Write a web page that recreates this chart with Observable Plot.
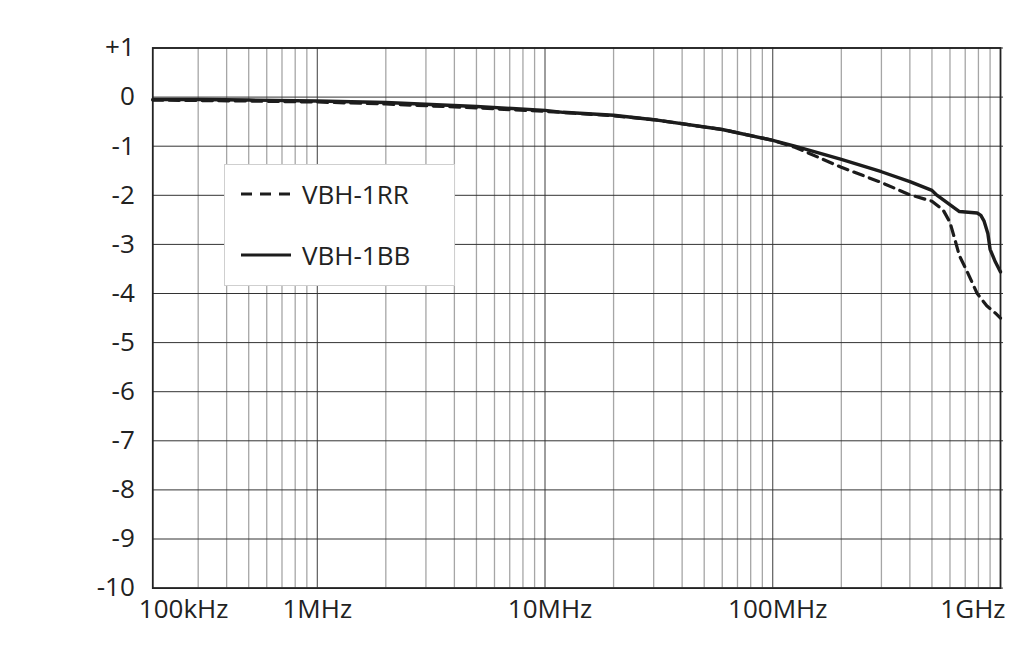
<!DOCTYPE html>
<html>
<head>
<meta charset="utf-8">
<script src="https://cdn.jsdelivr.net/npm/d3@7"></script>
<script src="https://cdn.jsdelivr.net/npm/@observablehq/plot@0.6"></script>
<style>
  html, body { margin: 0; padding: 0; background: #fff; }
  #wrap { position: relative; width: 1024px; height: 665px; font-family: "Open Sans", sans-serif; color: #222; }
  #legend { position: absolute; left: 224px; top: 164px; width: 231px; height: 122px; border: 1.5px solid #cfcfcf; background: #fff; box-sizing: border-box; }
  #legend .row { position: absolute; left: 16px; height: 32px; display: flex; align-items: center; }
  #legend .row span { font-size: 26px; margin-left: 11px; color: #222; }
</style>
</head>
<body>
<div id="wrap">
  <div id="chart"></div>
  <div id="legend"></div>
</div>
<script>
// Series names
const seriesNames = ["VBH-1RR", "VBH-1BB"];

// VBH-1BB (solid) — frequency (Hz) and response (dB)
const freqBB = [1.896e5, 3e5, 5e5, 1e6, 2e6, 5e6, 1e7, 1.2e7, 2e7, 3e7, 6e7, 1e8, 1.25e8, 2e8, 3e8, 4e8, 5e8, 5.2e8, 6.6e8, 7.9e8, 8.2e8, 8.46e8, 8.8e8, 9e8, 9.5e8, 1e9];
const dbBB   = [-0.05, -0.05, -0.06, -0.08, -0.11, -0.19, -0.27, -0.31, -0.37, -0.46, -0.66, -0.88, -1.0, -1.27, -1.52, -1.72, -1.9, -1.98, -2.33, -2.36, -2.41, -2.52, -2.78, -3.1, -3.36, -3.56];

// VBH-1RR (dashed)
const freqRR = [1.896e5, 5e5, 1e6, 2e6, 5e6, 1e7, 2e7, 3e7, 6e7, 1e8, 1.25e8, 1.42e8, 2e8, 3e8, 4e8, 5e8, 5.6e8, 6e8, 6.35e8, 6.6e8, 7.1e8, 7.9e8, 8.7e8, 9.5e8, 1e9];
const dbRR   = [-0.06, -0.08, -0.1, -0.14, -0.22, -0.29, -0.38, -0.46, -0.66, -0.88, -1.02, -1.13, -1.43, -1.74, -1.99, -2.12, -2.3, -2.55, -2.95, -3.23, -3.53, -4.0, -4.25, -4.4, -4.5];

// Axis ticks / labels
const yTicks = [1, 0, -1, -2, -3, -4, -5, -6, -7, -8, -9, -10];
const xLabels = ["100kHz", "1MHz", "10MHz", "100MHz", "1GHz"];
const xLabelFreqs = [1.896e5, 1e6, 1e7, 1e8, 1e9];
const xDomain = [1.896e5, 1e9];
const decadeLines = [1e6, 1e7, 1e8];
const decadeStarts = [1e5, 1e6, 1e7, 1e8];
const minorMultipliers = [2, 3, 4, 5, 6, 7, 8, 9];

const minorLines = [];
for (const d of decadeStarts) for (const m of minorMultipliers) {
  const v = d * m;
  if (v > xDomain[0] * 1.1 && v < xDomain[1]) minorLines.push(v);
}

const bb = freqBB.map((f, i) => ({f, db: dbBB[i]}));
const rr = freqRR.map((f, i) => ({f, db: dbRR[i]}));
const labels = xLabels.map((t, i) => ({t, f: xLabelFreqs[i]}));
const fmtY = d => d > 0 ? "+" + d : String(d);
const ink = "#1c1c1c";
const fs = 26;

const chart = Plot.plot({
  width: 1024,
  height: 640,
  marginTop: 47.5,
  marginBottom: 52.4,
  marginLeft: 152.3,
  marginRight: 24,
  x: {type: "log", domain: xDomain, axis: null},
  y: {domain: [-10, 1], axis: null},
  style: {fontFamily: "'Open Sans', sans-serif", background: "#fff", color: "#222", overflow: "visible"},
  marks: [
    Plot.ruleX(minorLines, {stroke: "#a6a6a6", strokeWidth: 1.3}),
    Plot.ruleX(decadeLines, {stroke: "#3c3c3c", strokeWidth: 1}),
    Plot.ruleY(yTicks, {x1: xDomain[0], x2: 1.031e9, stroke: "#333", strokeWidth: 1}),
    Plot.frame({stroke: "#222", strokeWidth: 1.8}),
    Plot.line(rr, {x: "f", y: "db", stroke: ink, strokeWidth: 3.2, strokeDasharray: "10,6.5", curve: "linear", strokeLinejoin: "round"}),
    Plot.line(bb, {x: "f", y: "db", stroke: ink, strokeWidth: 3.4, curve: "linear", strokeLinejoin: "round"}),
    Plot.text(yTicks, {x: xDomain[0], y: d => d, text: fmtY, textAnchor: "end", dx: -18, fontSize: fs, fill: "#222"}),
    Plot.text(labels.slice(0, 1), {x: "f", text: "t", frameAnchor: "bottom", textAnchor: "start", dx: -14, dy: 30, fontSize: fs, fill: "#222"}),
    Plot.text(labels.slice(1, 2), {x: "f", text: "t", frameAnchor: "bottom", dy: 30, fontSize: fs, fill: "#222"}),
    Plot.text(labels.slice(2, 4), {x: "f", text: "t", frameAnchor: "bottom", dx: 5, dy: 30, fontSize: fs, fill: "#222"}),
    Plot.text(labels.slice(4), {x: "f", text: "t", frameAnchor: "bottom", textAnchor: "end", dx: 5, dy: 30, fontSize: fs, fill: "#222"})
  ]
});
document.getElementById("chart").appendChild(chart);

// Legend
const legend = document.getElementById("legend");
const styles = [{dash: "11,8"}, {dash: null}];
seriesNames.forEach((name, i) => {
  const row = document.createElement("div");
  row.className = "row";
  row.style.top = (i === 0 ? 13 : 74) + "px";
  const s = d3.create("svg").attr("width", 50).attr("height", 10);
  s.append("line").attr("x1", 0).attr("x2", 50).attr("y1", 5).attr("y2", 5)
    .attr("stroke", ink).attr("stroke-width", 3).attr("stroke-dasharray", styles[i].dash);
  row.appendChild(s.node());
  const sp = document.createElement("span");
  sp.textContent = name;
  row.appendChild(sp);
  legend.appendChild(row);
});
</script>
</body>
</html>
